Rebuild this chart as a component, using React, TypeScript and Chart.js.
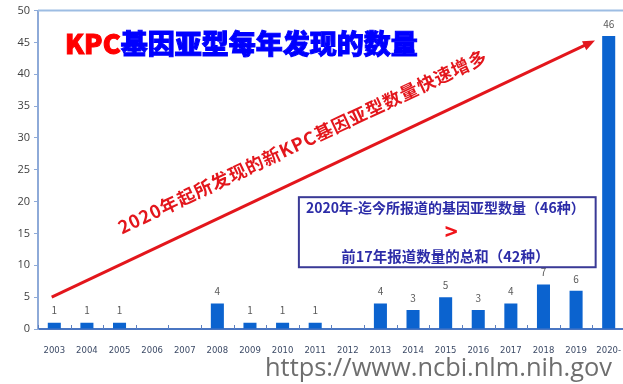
import React, { useEffect, useRef } from "react";
import { Chart, registerables } from "chart.js";

Chart.register(...registerables);

const years: string[] = [
  "2003", "2004", "2005", "2006", "2007", "2008", "2009", "2010", "2011",
  "2012", "2013", "2014", "2015", "2016", "2017", "2018", "2019", "2020-",
];
const counts: number[] = [1, 1, 1, 0, 0, 4, 1, 1, 1, 0, 4, 3, 5, 3, 4, 7, 6, 46];
const yTicks: number[] = [0, 5, 10, 15, 20, 25, 30, 35, 40, 45, 50];

const titleRed = "KPC";
const titleBlue = "基因亚型每年发现的数量";
const arrowText = "2020年起所发现的新KPC基因亚型数量快速增多";
const boxLine1 = "2020年-迄今所报道的基因亚型数量（46种）";
const boxLine2 = ">";
const boxLine3 = "前17年报道数量的总和（42种）";
const watermark = "https://www.ncbi.nlm.nih.gov";

// annotation anchors in data space: [category index, value]
const arrowStart: [number, number] = [-0.08, 5];
const arrowEnd: [number, number] = [16.58, 45.3];
const arrowTextCenter: [number, number] = [7.6, 29.4];
const boxTopLeft: [number, number] = [7.5, 20.7];
const boxBottomRight: [number, number] = [16.6, 9.7];

const CJK = '"Noto Sans CJK SC", "Noto Sans", sans-serif';

const overlayPlugin = {
  id: "overlay",
  afterDraw(chart: any) {
    const ctx: CanvasRenderingContext2D = chart.ctx;
    const area = chart.chartArea;
    const xs = chart.scales.x;
    const ys = chart.scales.y;
    const px = (i: number) => {
      const a = xs.getPixelForValue(0);
      const b = xs.getPixelForValue(1);
      return a + (b - a) * i;
    };
    const py = (v: number) => ys.getPixelForValue(v);

    ctx.save();
    // top frame line
    ctx.strokeStyle = "#9dbde3";
    ctx.lineWidth = 2;
    ctx.beginPath();
    ctx.moveTo(area.left, area.top);
    ctx.lineTo(chart.width, area.top);
    ctx.stroke();

    // inner x tick marks at category boundaries
    ctx.strokeStyle = "#5b7fc0";
    ctx.lineWidth = 1;
    const step = px(1) - px(0);
    for (let i = 0; i <= years.length; i++) {
      const x = Math.round(px(i) - step / 2) + 0.5;
      ctx.beginPath();
      ctx.moveTo(x, area.bottom - 4);
      ctx.lineTo(x, area.bottom);
      ctx.stroke();
    }

    // value labels
    ctx.fillStyle = "#5a5a5a";
    ctx.font = `10px ${CJK}`;
    ctx.textAlign = "center";
    ctx.textBaseline = "middle";
    const meta = chart.getDatasetMeta(0);
    meta.data.forEach((bar: any, i: number) => {
      if (counts[i] > 0) ctx.fillText(String(counts[i]), bar.x, bar.y - 12);
    });

    // arrow
    const x1 = px(arrowStart[0]);
    const y1 = py(arrowStart[1]);
    const x2 = px(arrowEnd[0]);
    const y2 = py(arrowEnd[1]);
    const ang = Math.atan2(y2 - y1, x2 - x1);
    ctx.strokeStyle = "#e3161c";
    ctx.fillStyle = "#e3161c";
    ctx.lineWidth = 3;
    ctx.beginPath();
    ctx.moveTo(x1, y1);
    ctx.lineTo(x2 - 8 * Math.cos(ang), y2 - 8 * Math.sin(ang));
    ctx.stroke();
    ctx.beginPath();
    ctx.moveTo(x2, y2);
    ctx.lineTo(x2 - 12 * Math.cos(ang) + 5 * Math.sin(ang), y2 - 12 * Math.sin(ang) - 5 * Math.cos(ang));
    ctx.lineTo(x2 - 12 * Math.cos(ang) - 5 * Math.sin(ang), y2 - 12 * Math.sin(ang) + 5 * Math.cos(ang));
    ctx.closePath();
    ctx.fill();

    // rotated text
    ctx.save();
    ctx.translate(px(arrowTextCenter[0]), py(arrowTextCenter[1]));
    ctx.rotate(ang);
    ctx.font = `bold 18px ${CJK}`;
    const tw = ctx.measureText(arrowText).width;
    const target = 405;
    const spacing = Math.max(0, (target - tw) / (arrowText.length - 1));
    (ctx as any).letterSpacing = `${spacing}px`;
    ctx.fillStyle = "#e3161c";
    ctx.textAlign = "center";
    ctx.textBaseline = "middle";
    ctx.fillText(arrowText, spacing / 2, 0);
    (ctx as any).letterSpacing = "0px";
    ctx.restore();

    // box
    const bx1 = px(boxTopLeft[0]);
    const by1 = py(boxTopLeft[1]);
    const bx2 = px(boxBottomRight[0]);
    const by2 = py(boxBottomRight[1]);
    ctx.fillStyle = "#ffffff";
    ctx.fillRect(bx1, by1, bx2 - bx1, by2 - by1);
    ctx.strokeStyle = "#3a3a96";
    ctx.lineWidth = 2;
    ctx.strokeRect(bx1, by1, bx2 - bx1, by2 - by1);
    const bcx = (bx1 + bx2) / 2;
    ctx.textAlign = "center";
    ctx.textBaseline = "middle";
    ctx.fillStyle = "#2c2ca8";
    ctx.font = `bold 14px ${CJK}`;
    ctx.fillText(boxLine1, bcx - 2, by1 + 11);
    ctx.fillStyle = "#f0141a";
    ctx.font = `bold 22px ${CJK}`;
    ctx.fillText(boxLine2, bcx + 4, by1 + 34);
    ctx.fillStyle = "#2c2ca8";
    ctx.font = `bold 14.5px ${CJK}`;
    ctx.fillText(boxLine3, bcx - 2, by1 + 59);

    // title
    ctx.textAlign = "left";
    ctx.textBaseline = "middle";
    ctx.font = `900 27px ${CJK}`;
    ctx.lineWidth = 1;
    const tx = 65;
    const ty = 44;
    ctx.fillStyle = "#ff0000";
    ctx.strokeStyle = "#ff0000";
    ctx.fillText(titleRed, tx, ty);
    ctx.strokeText(titleRed, tx, ty);
    const rw = ctx.measureText(titleRed).width;
    ctx.fillStyle = "#0000ff";
    ctx.strokeStyle = "#0000ff";
    ctx.fillText(titleBlue, tx + rw, ty);
    ctx.strokeText(titleBlue, tx + rw, ty);

    // watermark
    ctx.font = `23px "Open Sans", "Noto Sans", sans-serif`;
    const ww = ctx.measureText(watermark).width;
    const scale = 347 / ww;
    ctx.font = `${(23 * scale).toFixed(2)}px "Open Sans", "Noto Sans", sans-serif`;
    ctx.fillStyle = "#6e6e6e";
    ctx.textAlign = "right";
    ctx.textBaseline = "alphabetic";
    ctx.fillText(watermark, 612, 376);
    ctx.restore();
  },
};

export default function App() {
  const ref = useRef<HTMLCanvasElement | null>(null);
  useEffect(() => {
    document.body.style.margin = "0";
    document.body.style.overflow = "hidden";
    if (!ref.current) return;
    const chart = new Chart(ref.current, {
      type: "bar",
      data: {
        labels: years,
        datasets: [
          {
            data: counts,
            backgroundColor: "#0b63cf",
            barPercentage: 0.4,
            categoryPercentage: 1,
          },
        ],
      },
      options: {
        animation: false,
        responsive: false,
        layout: { padding: { left: 0, top: 10, right: 7, bottom: 31 } },
        plugins: { legend: { display: false }, tooltip: { enabled: false }, title: { display: false } },
        scales: {
          x: {
            offset: true,
            grid: { display: false },
            border: { color: "#4a76c2", width: 2 },
            ticks: {
              color: "#3c4a66",
              font: { size: 8.5, family: '"DejaVu Sans", sans-serif' },
              padding: 9,
              maxRotation: 0,
              autoSkip: false,
            },
            afterFit: (s: any) => {
              s.height = 24;
            },
          },
          y: {
            min: 0,
            max: 50,
            afterBuildTicks: (s: any) => {
              s.ticks = yTicks.map((v) => ({ value: v }));
            },
            grid: { drawOnChartArea: false, tickLength: 4, color: "#8eaad8" },
            border: { color: "#8eaad8", width: 2 },
            ticks: {
              color: "#404040",
              font: { size: 11, family: '"Open Sans", sans-serif' },
              padding: 4,
            },
            afterFit: (s: any) => {
              s.width = 38;
            },
          },
        },
      },
      plugins: [overlayPlugin],
    });
    return () => chart.destroy();
  }, []);
  return (
    <div style={{ position: "fixed", left: 0, top: 0, width: 623, height: 384, overflow: "hidden", background: "#fff" }}>
      <canvas ref={ref} width={632} height={384} style={{ width: 632, height: 384, display: "block" }} />
    </div>
  );
}
